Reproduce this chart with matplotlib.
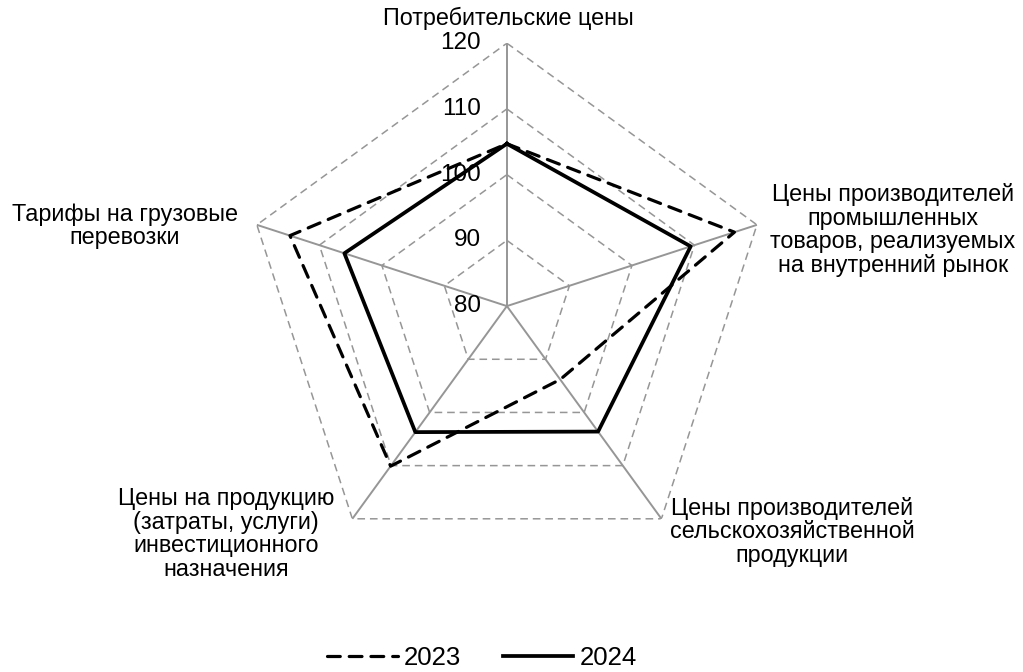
import numpy as np
import matplotlib.pyplot as plt

plt.rcParams['font.family'] = ['Liberation Sans', 'DejaVu Sans']

# ---------- данные ----------
categories = [
    'Потребительские цены',
    'Цены производителей\nпромышленных\nтоваров, реализуемых\nна внутренний рынок',
    'Цены производителей\nсельскохозяйственной\nпродукции',
    'Цены на продукцию\n(затраты, услуги)\nинвестиционного\nназначения',
    'Тарифы на грузовые\nперевозки',
]
values_2023 = [104.7, 116.4, 93.8, 110.1, 114.7]
values_2024 = [104.7, 109.4, 103.6, 103.7, 106.0]
levels = [80, 90, 100, 110, 120]

n = len(categories)
angles = np.linspace(0, 2 * np.pi, n, endpoint=False)
ang_closed = np.append(angles, angles[0])

fig = plt.figure(figsize=(10.23, 6.72), dpi=100)
ax = fig.add_axes([0.2385, 0.153, 0.514, 0.783], projection='polar')
ax.set_theta_offset(np.pi / 2)
ax.set_theta_direction(-1)
ax.set_ylim(80, 120)
ax.set_xticks([])
ax.set_yticks([])
ax.grid(False)
ax.spines['polar'].set_visible(False)
ax.patch.set_visible(False)

# сетка: пятиугольники и лучи
for lv in levels[1:]:
    ax.plot(ang_closed, [lv] * (n + 1), color='#969696', lw=1.1,
            ls=(0, (5, 3.2)), zorder=1)
for a in angles:
    ax.plot([a, a], [80, 120], color='#969696', lw=1.4, zorder=1)

# подписи шкалы
for lv in levels:
    ax.annotate(str(lv), xy=(0, lv), xytext=(-19, 0), textcoords='offset points',
                ha='right', va='center', fontsize=17.5, annotation_clip=False)

# ряды
v23 = values_2023 + values_2023[:1]
v24 = values_2024 + values_2024[:1]
ax.plot(ang_closed, v23, color='black', lw=2.3, ls=(0, (4, 2.8)),
        dash_capstyle='round', label='2023', zorder=3)
ax.plot(ang_closed, v24, color='black', lw=2.7, label='2024', zorder=3)

# подписи категорий
label_pos = [(508, 18), (893, 230), (792, 532), (226, 534), (125, 226)]
for txt, (px, py) in zip(categories, label_pos):
    fig.text(px / 1023, 1 - py / 672, txt, ha='center', va='center',
             fontsize=16.8, linespacing=1.03)

fig.legend(loc='center', bbox_to_anchor=(482 / 1023, 1 - 658 / 672), ncol=2,
           frameon=False, fontsize=18.5, handlelength=2.75, handletextpad=0.25,
           columnspacing=1.6)

plt.savefig('out.png', dpi=100)
